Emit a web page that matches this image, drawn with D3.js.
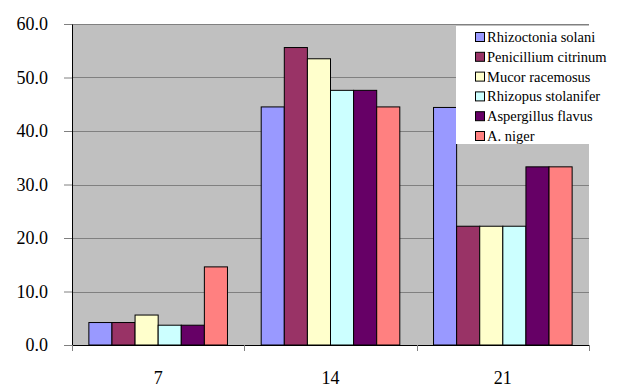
<!DOCTYPE html>
<html>
<head>
<meta charset="utf-8">
<script src="https://cdn.jsdelivr.net/npm/d3@7"></script>
<style>
  html, body { margin: 0; padding: 0; background: #fff; }
  svg { display: block; }
  svg text { font-family: "Liberation Serif", Tinos, "Times New Roman", Times, "DejaVu Serif", serif; fill: #000; }
</style>
</head>
<body>
<svg id="chart" width="641" height="388"></svg>
<script>
// Days after inoculation
const days = ["7", "14", "21"];

// Fungal species
const species = [
  "Rhizoctonia solani",
  "Penicillium citrinum",
  "Mucor racemosus",
  "Rhizopus stolanifer",
  "Aspergillus flavus",
  "A. niger"
];

// One value per day for each species
const rhizoctonia = [4.2, 44.5, 44.4];
const penicillium = [4.2, 55.6, 22.2];
const mucor       = [5.6, 53.5, 22.2];
const rhizopus    = [3.7, 47.6, 22.2];
const aspergillus = [3.7, 47.6, 33.3];
const niger       = [14.6, 44.5, 33.3];

const yTicks = [0, 10, 20, 30, 40, 50, 60];

const colors = ["#9999FF", "#993366", "#FFFFCC", "#CCFFFF", "#660066", "#FF8080"];

const seriesValues = [rhizoctonia, penicillium, mucor, rhizopus, aspergillus, niger];

const svg = d3.select("#chart");
const plot = { left: 72, right: 589, top: 24, bottom: 345 };

const x = d3.scaleBand().domain(days).range([plot.left, plot.right]).padding(0);
const xs = d3.scaleBand().domain(species).range([0, x.bandwidth()])
  .paddingInner(0).paddingOuter(0.73);
const y = d3.scaleLinear().domain([0, 60]).range([plot.bottom, plot.top]);

// plot background
svg.append("rect")
  .attr("x", plot.left).attr("y", plot.top)
  .attr("width", plot.right - plot.left).attr("height", plot.bottom - plot.top)
  .attr("fill", "#C0C0C0");

// horizontal gridlines
svg.append("g").selectAll("line").data(yTicks.filter(t => t > 0)).join("line")
  .attr("x1", plot.left).attr("x2", plot.right)
  .attr("y1", d => Math.round(y(d)) + 0.5).attr("y2", d => Math.round(y(d)) + 0.5)
  .attr("stroke", "#808080").attr("stroke-width", 1);

// bars
const rows = days.map((d, i) => ({
  day: d,
  values: species.map((s, j) => ({ s, v: seriesValues[j][i], c: colors[j] }))
}));

svg.append("g").selectAll("g").data(rows).join("g")
  .attr("transform", d => `translate(${x(d.day)},0)`)
  .selectAll("rect").data(d => d.values).join("rect")
  .attr("x", d => xs(d.s))
  .attr("y", d => y(d.v))
  .attr("width", xs.bandwidth())
  .attr("height", d => y(0) - y(d.v))
  .attr("fill", d => d.c)
  .attr("stroke", "#000").attr("stroke-width", 1);

// y axis
const yAxis = d3.axisLeft(y).tickValues(yTicks).tickFormat(d3.format(".1f"))
  .tickSize(8).tickPadding(16).tickSizeOuter(0);
const gy = svg.append("g").attr("transform", `translate(${plot.left},0)`).call(yAxis)
  .attr("font-family", null).attr("font-size", null);
gy.select(".domain").attr("stroke", "#000");
gy.selectAll(".tick line").attr("stroke", "#808080");
gy.selectAll("text").style("font-size", "18px");

// x axis
const xAxis = d3.axisBottom(x).tickSize(0).tickPadding(26).tickSizeOuter(0);
const gx = svg.append("g").attr("transform", `translate(0,${plot.bottom})`).call(xAxis)
  .attr("font-family", null).attr("font-size", null);
gx.select(".domain").attr("stroke", "#000");
gx.selectAll("text").style("font-size", "18px");

// category boundary ticks
const bounds = days.map(d => x(d)).concat([x(days[days.length - 1]) + x.bandwidth()]);
svg.append("g").selectAll("line").data(bounds).join("line")
  .attr("x1", d => Math.round(d) + 0.5).attr("x2", d => Math.round(d) + 0.5)
  .attr("y1", plot.bottom).attr("y2", plot.bottom + 6)
  .attr("stroke", "#808080");

// legend
const lg = svg.append("g").attr("transform", "translate(456,26)");
lg.append("rect").attr("x", 0).attr("y", 0).attr("width", 185).attr("height", 118)
  .attr("fill", "#fff");
const item = lg.selectAll("g").data(species).join("g")
  .attr("transform", (d, i) => `translate(19,${11 + i * 19.8})`);
item.append("rect").attr("x", 0.5).attr("y", -4.5).attr("width", 9).attr("height", 9)
  .attr("fill", (d, i) => colors[i]).attr("stroke", "#000").attr("stroke-width", 1);
item.append("text").attr("x", 12).attr("y", 0).attr("dy", "0.35em")
  .style("font-size", "14.5px").text(d => d);
</script>
</body>
</html>
